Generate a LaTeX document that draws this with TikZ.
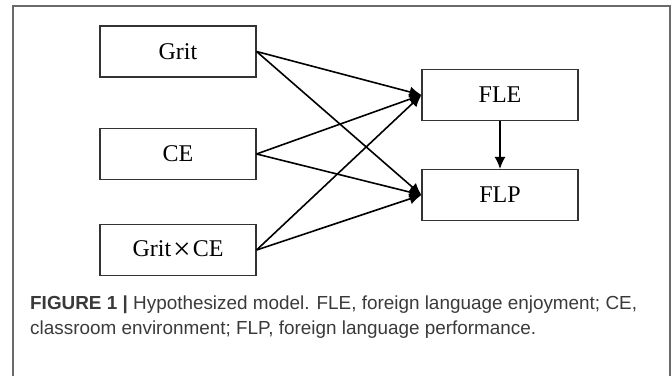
\documentclass[tikz,border=0pt]{standalone}
\usepackage{fontspec}
\setmainfont{Liberation Serif}
\setsansfont{Liberation Sans}
\usetikzlibrary{arrows.meta}

\definecolor{framegray}{HTML}{6A6A6A}
\definecolor{captext}{HTML}{3A3A3A}

\begin{document}
\begin{tikzpicture}[x=1pt,y=-1pt,
    var/.style={draw=black!80, line width=1.1pt, minimum width=156pt, minimum height=51pt, inner sep=0pt, font=\fontsize{24}{24}\selectfont},
    path/.style={line width=1.6pt, -{Latex[length=12pt,width=11pt]}}]
    \useasboundingbox (0,0) rectangle (672,375);
    \draw[framegray, line width=1.3pt] (13,380) -- (13,6) -- (670,6) -- (670,380);

    \node[var] at (178,51.5) (GRIT) {Grit};
    \node[var] at (178,154) (CE) {CE};
    \node[var] at (178,250) (GXC) {Grit\kern2pt\raisebox{-2.5pt}{\scalebox{1.3}{×}}\kern2pt CE};
    \node[var] at (500,95) (FLE) {FLE};
    \node[var] at (500,195) (FLP) {FLP};

    \draw[path] (GRIT.east) -- (FLE.west);
    \draw[path] (GRIT.east) -- (FLP.west);
    \draw[path] (CE.east) -- (FLE.west);
    \draw[path] (CE.east) -- (FLP.west);
    \draw[path] (GXC.east) -- (FLE.west);
    \draw[path] (GXC.east) -- (FLP.west);
    \draw[path] (FLE.south) -- (FLP.north);

    \node[anchor=base west, align=left, inner sep=0pt, text=captext, font=\sffamily\fontsize{18.9}{24.5}\selectfont] at (30,334) (CAP)
        {\textbf{FIGURE 1 |} Hypothesized model. FLE, foreign language enjoyment; CE,\\classroom environment; FLP, foreign language performance.};
\end{tikzpicture}
\end{document}
